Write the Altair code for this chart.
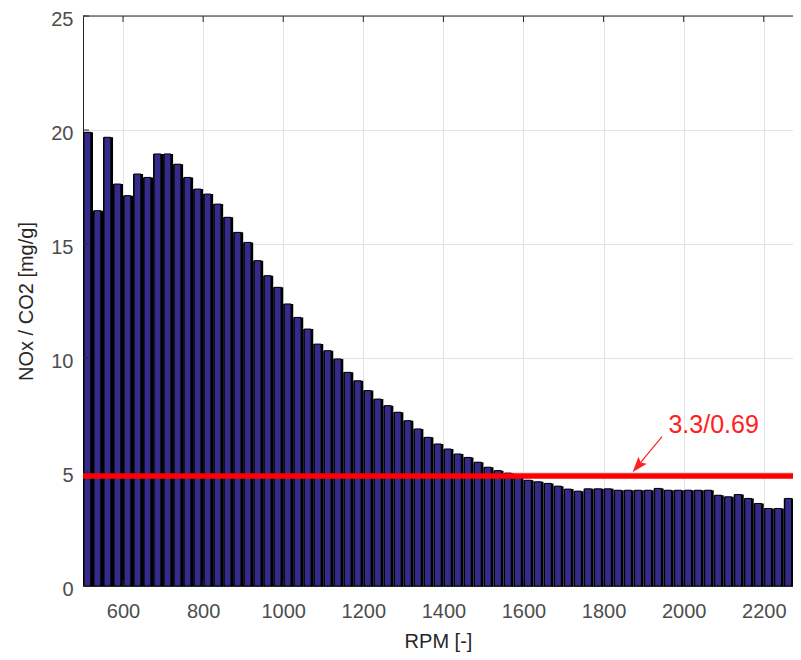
import altair as alt
import pandas as pd

# ---- data ----
bin_width = 25
rpm_start = list(range(500, 2300, 25))  # bar left edges (RPM bins)
ratio = [19.9, 16.46, 19.68, 17.63, 17.12, 18.07, 17.92, 18.95, 18.95, 18.5,
         17.92, 17.41, 17.19, 16.75, 16.17, 15.51, 15.07, 14.27, 13.61, 13.1,
         12.37, 11.78, 11.27, 10.61, 10.32, 9.96, 9.37, 9.0, 8.57, 8.2,
         7.91, 7.62, 7.25, 6.89, 6.52, 6.23, 6.01, 5.79, 5.64, 5.43,
         5.21, 5.06, 4.95, 4.78, 4.64, 4.57, 4.5, 4.38, 4.25, 4.16,
         4.26, 4.26, 4.26, 4.2, 4.2, 4.2, 4.2, 4.28, 4.2, 4.2,
         4.2, 4.2, 4.2, 3.98, 3.91, 4.01, 3.84, 3.62, 3.4, 3.4,
         3.84, 4.35]
ref_level = [4.83]
annot_text = ["3.3/0.69"]
annot_pos_x = [1962]
annot_pos_y = [6.70]
arrow_x = [1946, 1888]
arrow_y = [6.55, 5.32]
x_ticks = [600, 800, 1000, 1200, 1400, 1600, 1800, 2000, 2200]
y_ticks = [0, 5, 10, 15, 20, 25]
x_domain = [500, 2273]

df = pd.DataFrame({"x": rpm_start, "y": ratio})
df["x2"] = df["x"] + bin_width

xscale = alt.Scale(domain=x_domain, nice=False, zero=False, padding=0)
yscale = alt.Scale(domain=[0, 25], nice=False, padding=0)
xaxis = alt.Axis(values=x_ticks, title="RPM [-]", format="d", labelPadding=15, titlePadding=10)
yaxis = alt.Axis(values=y_ticks, title="NOx / CO2 [mg/g]", format="d", labelPadding=10,
                 titlePadding=14, labelOffset=3)

x_enc = alt.X("x:Q", scale=xscale, axis=xaxis)
y_enc = alt.Y("y:Q", scale=yscale, axis=yaxis)

base = alt.Chart(df)

bars_back = base.mark_bar(color="#000000", clip=True, orient="vertical").encode(
    x=x_enc, x2="x2:Q", y=y_enc, y2=alt.datum(0))
bars_front = base.transform_calculate(
    xa="datum.x + 2.5", xb="datum.x + 19.5"
).mark_bar(color="#352b8a", stroke="#000000", strokeWidth=1, clip=True, orient="vertical").encode(
    x=alt.X("xa:Q", scale=xscale, axis=xaxis),
    x2="xb:Q", y=y_enc, y2=alt.datum(0))

red_line = alt.Chart(pd.DataFrame({"y": ref_level})).mark_rule(
    color="#ff0000", strokeWidth=5.5).encode(y=y_enc)

arrow_df = pd.DataFrame({"x": arrow_x, "y": arrow_y})
arrow_line = alt.Chart(arrow_df).mark_line(color="#ff2020", strokeWidth=1.2).encode(x=x_enc, y=y_enc)
arrow_head = alt.Chart(arrow_df.iloc[[1]]).mark_point(
    shape="M0,-1L0.55,0.6L0,0.3L-0.55,0.6Z", filled=True, color="#ff2020",
    size=380, angle=220, opacity=1).encode(x=x_enc, y=y_enc)

label = alt.Chart(pd.DataFrame({"x": annot_pos_x, "y": annot_pos_y, "t": annot_text})).mark_text(
    align="left", baseline="alphabetic", font="Liberation Sans", fontSize=25, color="#ff2020"
).encode(x=x_enc, y=y_enc, text="t:N")

ytk = pd.DataFrame({"y": y_ticks})
xtk = pd.DataFrame({"x": x_ticks})
tick_col = "#262626"
left_ticks = alt.Chart(ytk).mark_rule(color=tick_col).encode(y=y_enc, x=alt.value(0), x2=alt.value(6))
bottom_ticks = alt.Chart(xtk).mark_rule(color=tick_col).encode(x=x_enc, y=alt.value(570), y2=alt.value(564))
top_ticks = alt.Chart(xtk).mark_rule(color=tick_col).encode(x=x_enc, y=alt.value(0), y2=alt.value(6))
top_border = alt.Chart(ytk.iloc[[0]]).mark_rule(color=tick_col, strokeWidth=1).encode(
    y=alt.value(0), x=alt.value(0), x2=alt.value(710))

chart = alt.layer(
    bars_back, bars_front, red_line, arrow_line, arrow_head, label,
    left_ticks, bottom_ticks, top_ticks, top_border
).properties(
    width=710, height=570,
    autosize=alt.AutoSizeParams(type="none"),
    padding={"left": 75, "top": 8, "right": 0, "bottom": 66},
    background="#ffffff",
).configure_axis(
    labelFont="Liberation Sans", labelFontSize=20, labelColor="#4d4d4d",
    titleFont="Liberation Sans", titleFontSize=20, titleColor="#262626",
    titleFontWeight="normal", grid=True, gridColor="#e3e3e3", gridWidth=1,
    domain=True, domainColor="#262626", ticks=False, zindex=1,
).configure_view(strokeWidth=0)

chart.save("out.html", embed_options={"renderer": "svg", "actions": False})
